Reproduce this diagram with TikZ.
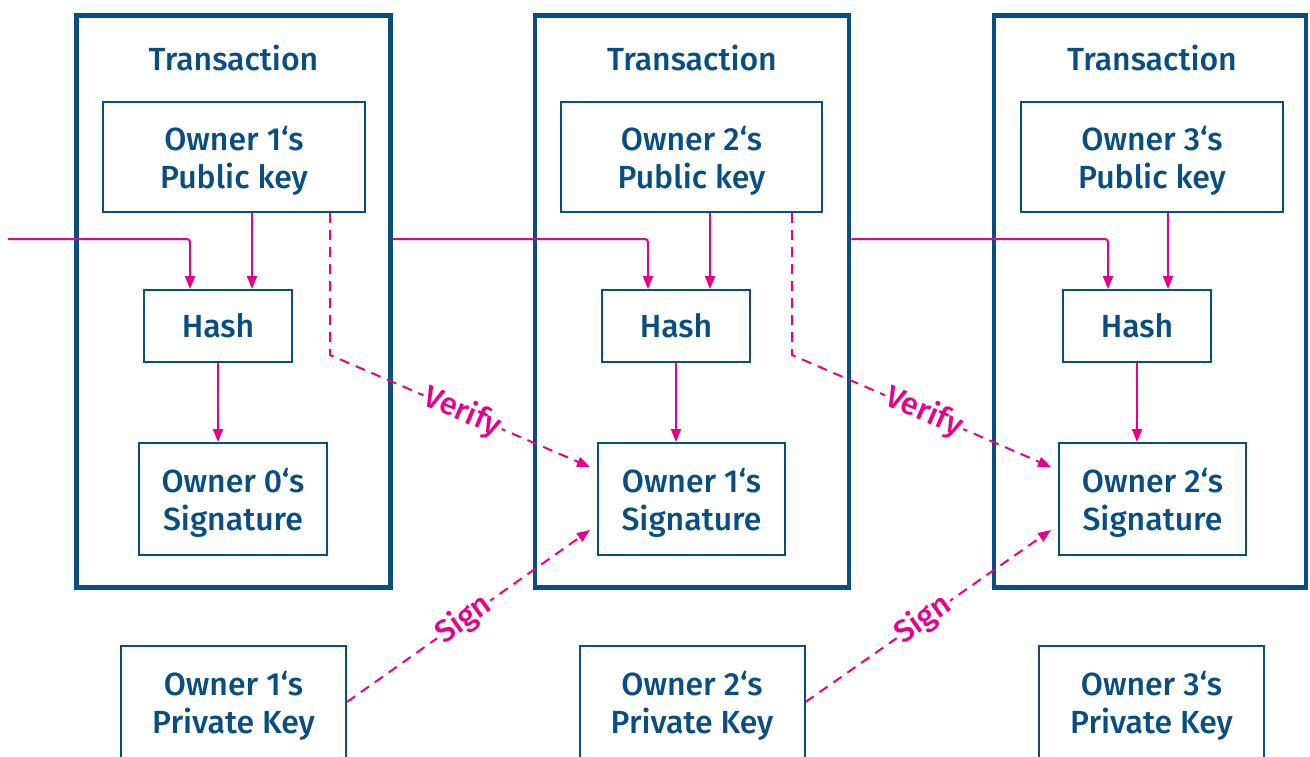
\documentclass[tikz,border=0pt]{standalone}
\usepackage{fontspec}
\setmainfont{Fira Sans}[BoldFont={Fira Sans Medium}]
\usetikzlibrary{arrows.meta,calc}
\definecolor{dblue}{RGB}{8,78,128}
\definecolor{mpink}{RGB}{232,0,138}
\newcommand{\nodp}[1]{\raisebox{0pt}[\height][0pt]{#1}}
\tikzset{
  txt/.style={text=dblue, font=\bfseries\fontsize{32}{38}\selectfont, align=center, inner sep=0pt},
  outerbox/.style={draw=dblue, line width=4.5pt, minimum width=314pt, minimum height=572pt, inner sep=0pt},
  inbox/.style={txt, draw=dblue, line width=2pt},
  flow/.style={draw=mpink, line width=2pt, -{Triangle[length=13pt,width=10pt]}},
  dflow/.style={flow, dash pattern=on 10pt off 7pt},
  lbl/.style={text=mpink, font=\bfseries\fontsize{31}{34}\selectfont, fill=white, inner sep=2pt},
}
\begin{document}
\begin{tikzpicture}[x=1pt,y=-1pt]
\useasboundingbox (0,0) rectangle (1310,756);
\clip (0,0) rectangle (1310,756);
% outer transaction boxes
\node[outerbox] (outer1) at (233.5,301.5) {};
\node[outerbox] (outer2) at (692,301.5) {};
\node[outerbox, minimum width=312pt] (outer3) at (1150,301.5) {};
% titles
\node[txt] (t1) at (233.5,58) {Transaction};
\node[txt] (t2) at (692,58) {Transaction};
\node[txt] (t3) at (1152,58) {Transaction};
% public keys
\node[inbox, minimum width=262pt, minimum height=110pt] (pub1) at (234,157) {Owner 1‘s\\\nodp{Public key}};
\node[inbox, minimum width=261pt, minimum height=110pt] (pub2) at (691.5,157) {Owner 2‘s\\\nodp{Public key}};
\node[inbox, minimum width=262pt, minimum height=110pt] (pub3) at (1152,157) {Owner 3‘s\\\nodp{Public key}};
% hashes
\node[inbox, minimum width=148pt, minimum height=72pt] (hash1) at (218,326) {Hash};
\node[inbox, minimum width=148pt, minimum height=72pt] (hash2) at (676,326) {Hash};
\node[inbox, minimum width=148pt, minimum height=72pt] (hash3) at (1137,326) {Hash};
% signatures
\node[inbox, minimum width=188pt, minimum height=112pt] (sig1) at (233,499) {Owner 0‘s\\\nodp{Signature}};
\node[inbox, minimum width=187pt, minimum height=112pt] (sig2) at (691.5,499) {Owner 1‘s\\\nodp{Signature}};
\node[inbox, minimum width=187pt, minimum height=112pt] (sig3) at (1152.5,499) {Owner 2‘s\\\nodp{Signature}};
% private keys
\node[inbox, minimum width=225pt, minimum height=112pt] (priv1) at (233.5,702) {Owner 1‘s\\\nodp{Private Key}};
\node[inbox, minimum width=225pt, minimum height=112pt] (priv2) at (692,702) {Owner 2‘s\\\nodp{Private Key}};
\node[inbox, minimum width=225pt, minimum height=112pt] (priv3) at (1151.5,702) {Owner 3‘s\\\nodp{Private Key}};
\coordinate (start) at (8,239);
% chain lines
\draw[flow, rounded corners=3pt] (start) -| ([xshift=-28pt]hash1.north);
\draw[flow, rounded corners=3pt] (outer1.east |- start) -| ([xshift=-28pt]hash2.north);
\draw[flow, rounded corners=3pt] (outer2.east |- start) -| ([xshift=-29pt]hash3.north);
% public key to hash
\draw[flow] ([xshift=18pt]pub1.south) -- ([xshift=18pt]pub1.south |- hash1.north);
\draw[flow] ([xshift=18.5pt]pub2.south) -- ([xshift=18.5pt]pub2.south |- hash2.north);
\draw[flow] ([xshift=16pt]pub3.south) -- ([xshift=16pt]pub3.south |- hash3.north);
% hash to signature
\draw[flow] (hash1.south) -- (hash1.south |- sig1.north);
\draw[flow] (hash2.south) -- (hash2.south |- sig2.north);
\draw[flow] (hash3.south) -- (hash3.south |- sig3.north);
% verify
\draw[dflow] ([xshift=96pt]pub1.south) -- ++(0,142) -- node[lbl, sloped, pos=0.51] {Verify} ([xshift=-7pt,yshift=32pt]sig2.west);
\draw[dflow] ([xshift=100.5pt]pub2.south) -- ++(0,142) -- node[lbl, sloped, pos=0.51] {Verify} ([xshift=-7pt,yshift=32pt]sig3.west);
% sign
\draw[dflow] (priv1.east) -- node[lbl, sloped, pos=0.48] {Sign} ([xshift=-7pt,yshift=-31pt]sig2.west);
\draw[dflow] (priv2.east) -- node[lbl, sloped, pos=0.48] {Sign} ([xshift=-7pt,yshift=-31pt]sig3.west);
\end{tikzpicture}
\end{document}
